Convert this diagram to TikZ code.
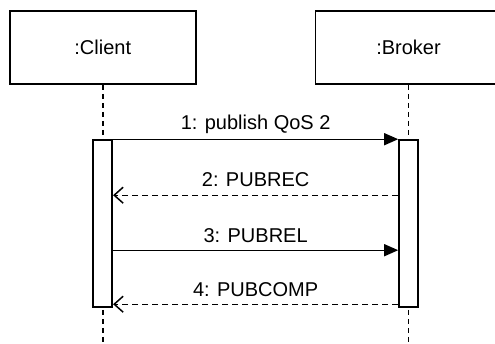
\documentclass[tikz,border=0pt]{standalone}
\usepackage{fontspec}
\setmainfont{Liberation Sans}
\usetikzlibrary{arrows.meta}

\begin{document}
\begin{tikzpicture}[x = 1pt, y = -1pt,
        every node/.style = {font = \fontsize{20}{24}\selectfont},
        obj/.style = {draw, line width = 1.6pt, minimum width = 186pt, minimum height = 73pt, inner sep = 0},
        bar/.style = {draw, fill = white, line width = 1.6pt, minimum width = 19pt, minimum height = 167pt, inner sep = 0},
        life/.style = {line width = 1.5pt, dash pattern = on 5pt off 4pt},
        call/.style = {line width = 1.4pt, -{Triangle[length = 14pt, width = 12pt]}},
        reply/.style = {line width = 1.4pt, dash pattern = on 6pt off 4pt, -{Straight Barb[length = 9pt, width = 16pt, line width = 1.5pt]}},
        msg/.style = {midway, anchor = base, yshift = 9pt}]

        \clip (0, 0) rectangle (495, 343);

        \node (client) at (102.75, 47.5) [obj] {:Client};
        \node (broker) at (408.5, 47.5) [obj] {:Broker};

        \coordinate (cend) at (102.75, 343);
        \coordinate (bend) at (408.5, 343);
        \draw [life] (client.south) -- (cend);
        \draw [life] (broker.south) -- (bend);

        \node (cbar) at (102.75, 223.5) [bar] {};
        \node (bbar) at (408.5, 223.5) [bar] {};

        \draw [call] (cbar.north east) -- (bbar.north west) node [msg, yshift = 1pt] {1: publish QoS 2};
        \draw [reply] ([yshift = -56pt] bbar.north west) -- ([yshift = -56pt] cbar.north east) node [msg] {2: PUBREC};
        \draw [call] ([yshift = -111pt] cbar.north east) -- ([yshift = -111pt] bbar.north west) node [msg, yshift = -1pt] {3: PUBREL};
        \draw [reply] ([yshift = -165pt] bbar.north west) -- ([yshift = -165pt] cbar.north east) node [msg, yshift = -1pt] {4: PUBCOMP};

    \end{tikzpicture}
\end{document}
